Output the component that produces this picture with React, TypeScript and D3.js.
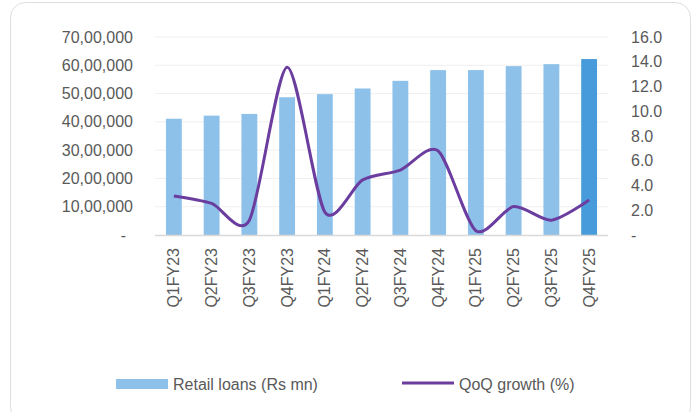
import React from "react";
import * as d3 from "d3";

const quarters = [
  "Q1FY23", "Q2FY23", "Q3FY23", "Q4FY23",
  "Q1FY24", "Q2FY24", "Q3FY24", "Q4FY24",
  "Q1FY25", "Q2FY25", "Q3FY25", "Q4FY25",
];
// Retail loans (Rs mn)
const retailLoans = [
  4110000, 4220000, 4280000, 4870000,
  4980000, 5180000, 5450000, 5830000,
  5830000, 5970000, 6040000, 6220000,
];
// QoQ growth (%)
const qoqGrowth = [3.15, 2.55, 1.2, 13.55, 1.85, 4.45, 5.25, 6.8, 0.35, 2.3, 1.2, 2.83];

const leftTicks = [0, 1000000, 2000000, 3000000, 4000000, 5000000, 6000000, 7000000];
const rightTicks = [0, 2, 4, 6, 8, 10, 12, 14, 16];

const W = 691;
const H = 412;
const margin = { left: 155, right: 608, top: 37, bottom: 235 };

// Indian digit grouping, e.g. 70,00,000
const indianFormat = (v: number) => {
  if (v === 0) return "-";
  const s = String(Math.round(v));
  const last3 = s.slice(-3);
  let rest = s.slice(0, -3);
  const parts: string[] = [];
  while (rest.length > 2) {
    parts.unshift(rest.slice(-2));
    rest = rest.slice(0, -2);
  }
  if (rest) parts.unshift(rest);
  return parts.join(",") + "," + last3;
};

const textColor = "#595959";
const font = "'Liberation Sans', Arial, sans-serif";

export default function App() {
  const x = d3
    .scaleBand<string>()
    .domain(quarters)
    .range([margin.left, margin.right])
    .paddingInner(0.58)
    .paddingOuter(0.29);

  const yLeft = d3.scaleLinear().domain([0, 7000000]).range([margin.bottom, margin.top]);
  const yRight = d3.scaleLinear().domain([0, 16]).range([margin.bottom, margin.top]);

  const line = d3
    .line<number>()
    .x((_, i) => (x(quarters[i]) as number) + x.bandwidth() / 2)
    .y((d) => yRight(d))
    .curve(d3.curveCardinal.tension(0.2));

  return (
    <svg
      width={W}
      height={H}
      style={{ position: "absolute", left: 0, top: 0, background: "#fff" }}
      fontFamily={font}
    >
      <rect x={10.5} y={2.5} width={680} height={420} rx={15} fill="#fff" stroke="#dedede" />

      {/* gridlines */}
      {leftTicks.slice(1).map((t) => (
        <line
          key={t}
          x1={margin.left}
          x2={margin.right}
          y1={yLeft(t)}
          y2={yLeft(t)}
          stroke="#efefef"
          strokeWidth={1}
        />
      ))}

      {/* bars */}
      {retailLoans.map((v, i) => (
        <rect
          key={quarters[i]}
          x={x(quarters[i])}
          y={yLeft(v)}
          width={x.bandwidth()}
          height={yLeft(0) - yLeft(v)}
          fill={i === quarters.length - 1 ? "#489bdb" : "#8dc1e9"}
        />
      ))}

      {/* baseline */}
      <line
        x1={margin.left}
        x2={margin.right}
        y1={margin.bottom + 0.5}
        y2={margin.bottom + 0.5}
        stroke="#d9d9d9"
        strokeWidth={1.5}
      />

      {/* growth line */}
      <path d={line(qoqGrowth) || ""} fill="none" stroke="#6a3d9f" strokeWidth={3} strokeLinejoin="round" />

      {/* left axis */}
      {leftTicks.map((t) => (
        <text
          key={t}
          x={t === 0 ? 126 : 133}
          y={yLeft(t)}
          textAnchor="end"
          dominantBaseline="central"
          fontSize={16}
          fill={textColor}
        >
          {indianFormat(t)}
        </text>
      ))}

      {/* right axis */}
      {rightTicks.map((t) => (
        <text
          key={t}
          x={631}
          y={yRight(t)}
          textAnchor="start"
          dominantBaseline="central"
          fontSize={16}
          fill={textColor}
        >
          {t === 0 ? "-" : t.toFixed(1)}
        </text>
      ))}

      {/* category labels */}
      {quarters.map((q) => (
        <text
          key={q}
          transform={`translate(${(x(q) as number) + x.bandwidth() / 2},248) rotate(-90)`}
          textAnchor="end"
          dominantBaseline="central"
          fontSize={16}
          fill={textColor}
        >
          {q}
        </text>
      ))}

      {/* legend */}
      <rect x={116} y={379} width={52} height={10} fill="#8dc1e9" />
      <text x={173} y={384} dominantBaseline="central" fontSize={16} fill={textColor}>
        Retail loans (Rs mn)
      </text>
      <line x1={402} x2={454} y1={383} y2={383} stroke="#6a3d9f" strokeWidth={3} />
      <text x={459} y={384} dominantBaseline="central" fontSize={16} fill={textColor}>
        QoQ growth (%)
      </text>
    </svg>
  );
}
